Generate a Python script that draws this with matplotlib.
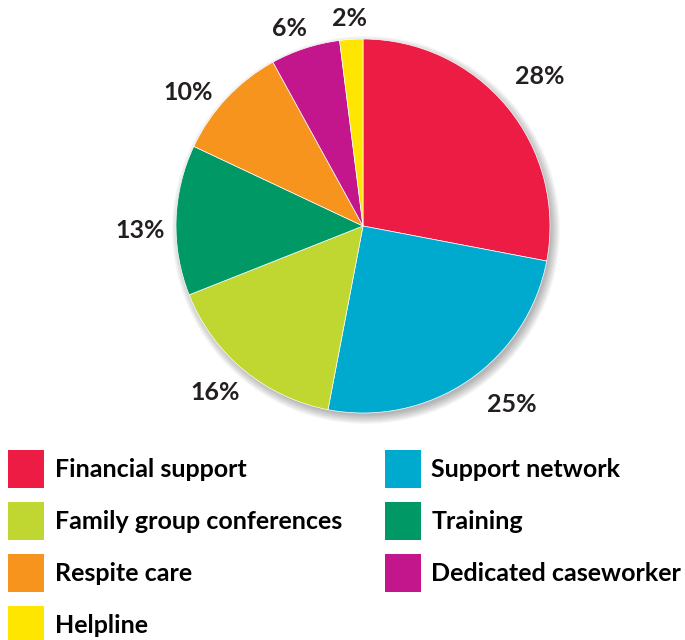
import matplotlib.pyplot as plt
from matplotlib.patches import Patch, Circle

categories = ['Financial support', 'Support network', 'Family group conferences',
              'Training', 'Respite care', 'Dedicated caseworker', 'Helpline']
shares = [28, 25, 16, 13, 10, 6, 2]
colors = ['#EC1C45', '#00A9CE', '#BFD730', '#009966', '#F7941D', '#C4168C', '#FFE600']
# label anchor points (pixels from top-left)
label_xy = [(540, 76), (512, 405), (215, 393), (140, 230), (188, 92), (290, 28), (350, 18)]

plt.rcParams['font.family'] = ['Lato', 'DejaVu Sans']
plt.rcParams['font.weight'] = 'bold'

W, H = 685, 640
cx, cy, R = 363, H - 226, 187

fig = plt.figure(figsize=(6.85, 6.4), dpi=100)
ax = fig.add_axes([0, 0, 1, 1])

# soft drop shadow behind the pie
for k in range(10):
    ax.add_patch(Circle((cx + 3, cy - 4), R + 7 - k, facecolor='black',
                        edgecolor='none', alpha=0.03, zorder=0))

wedges, texts = ax.pie(shares, colors=colors, startangle=90, counterclock=False,
                       center=(cx, cy), radius=R, frame=True,
                       labels=[f'{v}%' for v in shares], labeldistance=1.17,
                       wedgeprops=dict(edgecolor='white', linewidth=0.5, zorder=2),
                       textprops=dict(fontsize=18, fontweight='bold', color='#231F20'))
for t, (x, y) in zip(texts, label_xy):
    t.set_position((x, H - y))
    t.set_horizontalalignment('center')
    t.set_verticalalignment('center')

ax.set_xlim(0, W)
ax.set_ylim(0, H)
ax.set_aspect('equal')
ax.axis('off')

# legend: column-first fill, two columns
order = [0, 2, 4, 6, 1, 3, 5]
handles = [Patch(facecolor=colors[i], edgecolor='none') for i in order]
labels = [categories[i] for i in order]
fig.legend(handles, labels, loc='upper left', bbox_to_anchor=(8 / W, 1 - 450 / H),
           ncol=2, frameon=False, borderpad=0, borderaxespad=0,
           handlelength=1.44, handleheight=1.96, handletextpad=0.43,
           labelspacing=0.56, columnspacing=1.7,
           prop=dict(family=['Lato', 'DejaVu Sans'], weight='bold', size=18))

fig.savefig('out.png', dpi=100)
